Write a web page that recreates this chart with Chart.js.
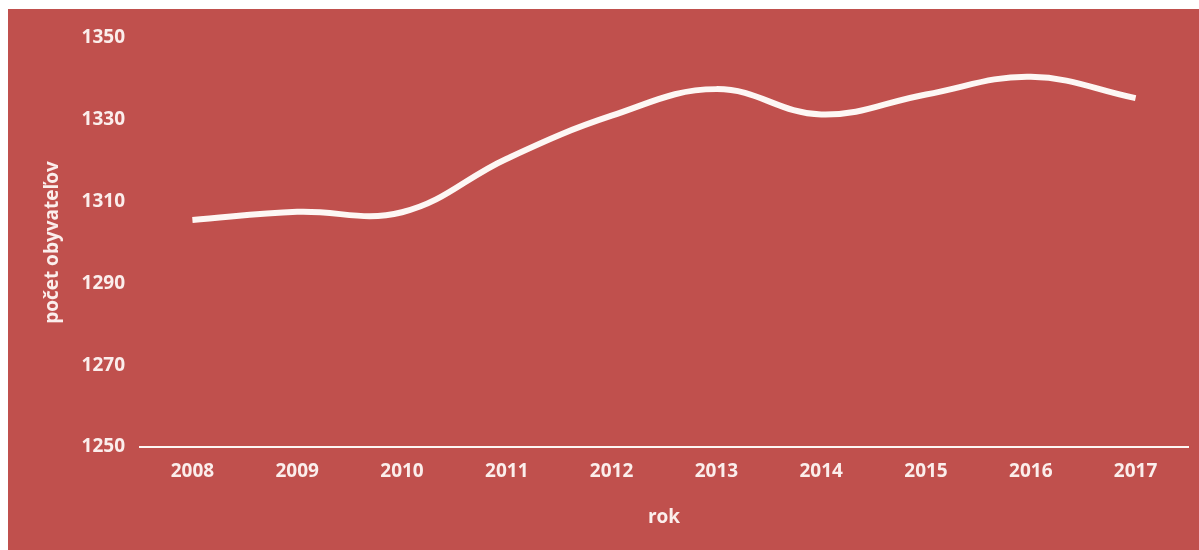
<!DOCTYPE html>
<html>
<head>
<meta charset="utf-8">
<script src="https://cdn.jsdelivr.net/npm/chart.js@4"></script>
<style>
    body { margin: 0; background: #ffffff; }
    #wrap { position: absolute; left: 8px; top: 9px; width: 1191px; height: 541px; background: #c0504d; }
</style>
</head>
<body>
<div id="wrap"><canvas id="population-chart"></canvas></div>
<script>
var years = ["2008", "2009", "2010", "2011", "2012", "2013", "2014", "2015", "2016", "2017"];
var population = [1305.5, 1307.5, 1307.4, 1320.5, 1331, 1337.5, 1331.3, 1336.2, 1340.5, 1335.3];
var yMin = 1250;
var yMax = 1350;
var yStep = 20;

var textColor = "#fbeeec";
window.addEventListener("load", init);

function init() {
    Chart.defaults.font.family = "'Open Sans', sans-serif";
    initPopulationChart();
}

function initPopulationChart() {
    const data = {
        labels: years,
        datasets: [
            {
                label: 'počet obyvateľov',
                data: population,
                borderColor: '#fdf7f4',
                borderWidth: 6,
                borderCapStyle: 'butt',
                tension: 0.4,
                pointRadius: 0,
                fill: false
            }
        ]
    };

    const config = {
        type: 'line',
        data: data,
        options: {
            responsive: true,
            maintainAspectRatio: false,
            animation: false,
            layout: {
                padding: { top: 29, right: 11, bottom: 0, left: 0 }
            },
            plugins: {
                legend: { display: false },
                tooltip: { enabled: false }
            },
            scales: {
                x: {
                    offset: true,
                    grid: { display: false, drawTicks: false, offset: true },
                    border: { display: true, color: '#fdf7f4', width: 2 },
                    ticks: {
                        color: textColor,
                        padding: 13,
                        font: { size: 19, weight: 'bold' }
                    },
                    title: {
                        display: true,
                        text: 'rok',
                        color: textColor,
                        padding: { top: 0, bottom: 21 },
                        font: { size: 19, weight: 'bold' }
                    },
                    afterFit: function (scale) { scale.height = 103; }
                },
                y: {
                    min: yMin,
                    max: yMax,
                    grid: { display: false, drawTicks: false },
                    border: { display: false },
                    ticks: {
                        stepSize: yStep,
                        color: textColor,
                        padding: 15,
                        font: { size: 19, weight: 'bold' },
                        callback: function (value) { return String(value); }
                    },
                    title: {
                        display: true,
                        text: 'počet obyvateľov',
                        color: textColor,
                        padding: { top: 33, bottom: 0 },
                        font: { size: 19, weight: 'bold' }
                    },
                    afterFit: function (scale) { scale.width = 132; }
                }
            }
        }
    };
    const populationChart = new Chart(document.getElementById("population-chart"), config);
}
</script>
</body>
</html>
